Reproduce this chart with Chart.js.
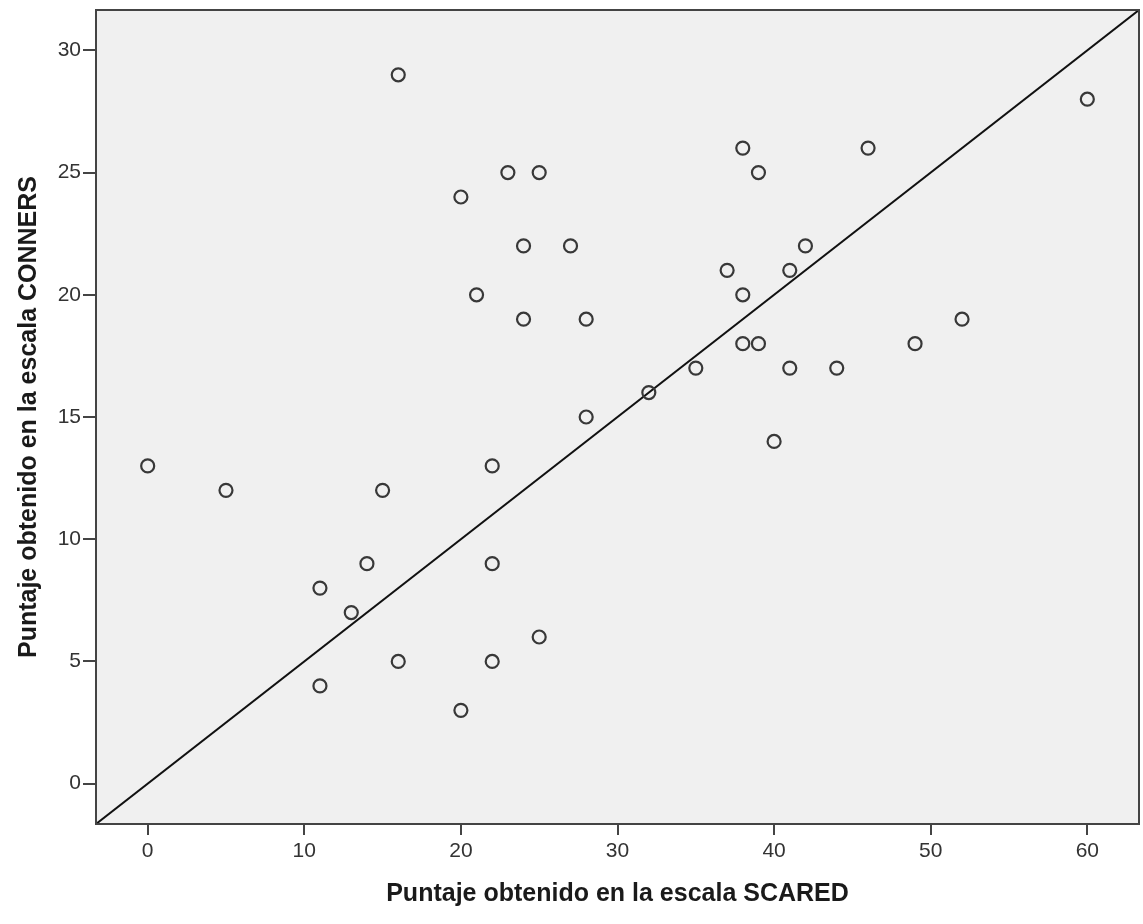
<!DOCTYPE html>
<html>
<head>
<meta charset="utf-8">
<script src="https://cdn.jsdelivr.net/npm/chart.js@4.4.1/dist/chart.umd.min.js"></script>
<style>
    body { margin: 0; background: #ffffff; }
    #grafico { display: block; }
</style>
</head>
<body>
<canvas id="grafico" width="1143" height="924"></canvas>
<script>
// puntajes
const scared = [0, 5, 11, 11, 13, 14, 15, 16, 16, 20, 20, 21, 22, 22, 22, 23, 24, 24, 25, 25,
    27, 28, 28, 32, 35, 37, 38, 38, 38, 39, 39, 40, 41, 41, 42, 44, 46, 49, 52, 60];
const conners = [13, 12, 8, 4, 7, 9, 12, 29, 5, 24, 3, 20, 13, 9, 5, 25, 22, 19, 25, 6,
    22, 19, 15, 16, 17, 21, 26, 20, 18, 25, 18, 14, 21, 17, 22, 17, 26, 18, 19, 28];

// limites de los ejes y linea de referencia (y = x / 2)
const xMin = -3.3;
const xMax = 63.3;
const yMin = -1.65;
const yMax = 31.65;
const lineaX = [xMin, xMax];
const lineaY = [xMin / 2, xMax / 2];

const ticksX = [0, 10, 20, 30, 40, 50, 60];
const ticksY = [0, 5, 10, 15, 20, 25, 30];

const tituloX = 'Puntaje obtenido en la escala SCARED';
const tituloY = 'Puntaje obtenido en la escala CONNERS';

const colorMarco = '#444444';

const puntos = scared.map((v, i) => ({ x: v, y: conners[i] }));
const linea = lineaX.map((v, i) => ({ x: v, y: lineaY[i] }));

const fondoPlugin = {
    id: 'fondo',
    beforeDraw(chart) {
        const { ctx, chartArea: a } = chart;
        ctx.save();
        ctx.fillStyle = '#f0f0f0';
        ctx.fillRect(a.left, a.top, a.right - a.left, a.bottom - a.top);
        ctx.restore();
    },
    afterDraw(chart) {
        const { ctx, chartArea: a } = chart;
        ctx.save();
        ctx.strokeStyle = colorMarco;
        ctx.lineWidth = 2;
        ctx.strokeRect(a.left, a.top, a.right - a.left, a.bottom - a.top);
        ctx.restore();
    }
};

new Chart(document.getElementById('grafico'), {
    type: 'scatter',
    data: {
        datasets: [{
            data: puntos,
            pointRadius: 6.5,
            pointHoverRadius: 6.5,
            pointBorderWidth: 2.2,
            pointBorderColor: '#383838',
            pointBackgroundColor: 'rgba(0,0,0,0)',
        }, {
            type: 'line',
            data: linea,
            borderColor: '#111111',
            borderWidth: 2,
            pointRadius: 0,
            fill: false,
        }],
    },
    options: {
        responsive: false,
        animation: false,
        events: [],
        layout: {
            autoPadding: false,
            padding: { top: 10, right: 4, left: 0, bottom: 0 },
        },
        scales: {
            x: {
                type: 'linear',
                min: xMin,
                max: xMax,
                afterBuildTicks(scale) {
                    scale.ticks = ticksX.map(v => ({ value: v }));
                },
                afterFit(scale) {
                    scale.height = 100;
                    scale.paddingLeft = 0;
                    scale.paddingRight = 0;
                },
                grid: {
                    drawOnChartArea: false,
                    tickLength: 11,
                    color: colorMarco,
                    lineWidth: 2,
                },
                border: { display: false },
                ticks: {
                    padding: 4,
                    color: '#333333',
                    font: { family: 'Arial, "Liberation Sans"', size: 21 },
                },
                title: {
                    display: true,
                    text: tituloX,
                    color: '#1a1a1a',
                    padding: { top: 0, bottom: 15 },
                    font: { family: 'Arial, "Liberation Sans"', size: 25, weight: 'bold' },
                },
            },
            y: {
                type: 'linear',
                min: yMin,
                max: yMax,
                afterBuildTicks(scale) {
                    scale.ticks = ticksY.map(v => ({ value: v }));
                },
                afterFit(scale) {
                    scale.width = 96;
                    scale.paddingTop = 0;
                    scale.paddingBottom = 0;
                },
                grid: {
                    drawOnChartArea: false,
                    tickLength: 13,
                    color: colorMarco,
                    lineWidth: 2,
                },
                border: { display: false },
                ticks: {
                    padding: 2,
                    color: '#333333',
                    font: { family: 'Arial, "Liberation Sans"', size: 21 },
                },
                title: {
                    display: true,
                    text: tituloY,
                    color: '#1a1a1a',
                    padding: { top: 14, bottom: 0 },
                    font: { family: 'Arial, "Liberation Sans"', size: 25, weight: 'bold' },
                },
            },
        },
        plugins: {
            legend: { display: false },
            tooltip: { enabled: false },
        },
    },
    plugins: [fondoPlugin],
});
</script>
</body>
</html>
